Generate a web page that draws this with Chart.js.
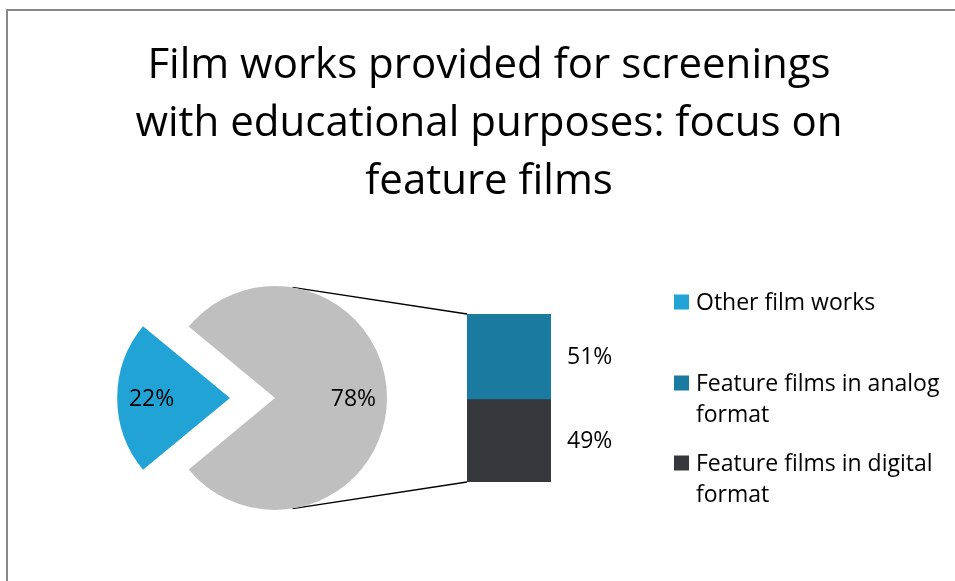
<!DOCTYPE html>
<html>
<head>
<meta charset="utf-8">
<script src="https://cdn.jsdelivr.net/npm/chart.js@4/dist/chart.umd.min.js"></script>
<style>
  body{margin:0;background:#fff;}
  #wrap{position:relative;width:955px;height:581px;overflow:hidden;background:#fff;}
  #frame{position:absolute;left:6px;top:9px;width:960px;height:600px;border-left:2px solid #888;border-top:2px solid #888;}
  #wrap canvas{position:absolute;left:0;top:0;}
</style>
</head>
<body>
<div id="wrap">
  <div id="frame"></div>
  <canvas id="pieChart" width="955" height="581"></canvas>
  <canvas id="barChart" width="955" height="581"></canvas>
</div>
<script>
const titleLines = ['Film works provided for screenings', 'with educational purposes: focus on', 'feature films']

// pie part
const pieLabels = ['Other film works', 'Feature films']
const pieValues = [22, 78]
const pieColors = ['#21a3d6', '#bfbfbf']

// bar part (stack order: bottom first)
const barLabels = ['Feature films in digital format', 'Feature films in analog format']
const barValues = [49, 51]
const barColors = ['#36373c', '#1a7a9f']

// legend entries as shown on the right
const legendItems = [
  {lines: ['Other film works'], color: pieColors[0]},
  {lines: ['Feature films in analog', 'format'], color: barColors[1]},
  {lines: ['Feature films in digital', 'format'], color: barColors[0]}
]

const FONT = '"Open Sans", "Noto Sans", sans-serif'

// percent labels next to the stacked bar
const barLabelPlugin = {
  id: 'barLabels',
  afterDatasetsDraw(chart) {
    const ctx = chart.ctx
    ctx.save()
    ctx.font = '23px ' + FONT
    ctx.fillStyle = '#000'
    ctx.textAlign = 'left'
    ctx.textBaseline = 'middle'
    chart.data.datasets.forEach((ds, i) => {
      const el = chart.getDatasetMeta(i).data[0]
      const mid = (el.y + el.base) / 2
      ctx.fillText(ds.data[0] + '%', el.x + el.width / 2 + 16, mid + 1)
    })
    ctx.restore()
  }
}

const barChart = new Chart(document.getElementById('barChart'), {
  type: 'bar',
  data: {
    labels: ['Feature films'],
    datasets: barValues.map((v, i) => ({
      label: barLabels[i],
      data: [v],
      backgroundColor: barColors[i],
      borderWidth: 0,
      categoryPercentage: 1,
      barPercentage: 1
    }))
  },
  options: {
    responsive: false,
    animation: false,
    layout: {padding: {left: 467, right: 404, top: 314, bottom: 99}},
    scales: {
      x: {stacked: true, display: false},
      y: {stacked: true, display: false, min: 0, max: 100}
    },
    plugins: {legend: {display: false}, tooltip: {enabled: false}}
  },
  plugins: [barLabelPlugin]
})

// title, pie labels, connector lines and legend
const piePlugin = {
  id: 'pieExtras',
  beforeDatasetsDraw(chart) {
    const ctx = chart.ctx
    const gray = chart.getDatasetMeta(0).data[1]
    const top = barChart.getDatasetMeta(1).data[0]
    const bottom = barChart.getDatasetMeta(0).data[0]
    const left = top.x - top.width / 2
    const a = 81 * Math.PI / 180
    ctx.save()
    ctx.strokeStyle = '#000'
    ctx.lineWidth = 1.5
    ctx.beginPath()
    ctx.moveTo(gray.x + Math.cos(a) * gray.outerRadius, gray.y - Math.sin(a) * gray.outerRadius)
    ctx.lineTo(left, top.y)
    ctx.moveTo(gray.x + Math.cos(a) * gray.outerRadius, gray.y + Math.sin(a) * gray.outerRadius)
    ctx.lineTo(left, bottom.base)
    ctx.stroke()
    ctx.restore()
  },
  afterDraw(chart) {
    const ctx = chart.ctx
    ctx.save()
    ctx.fillStyle = '#000'

    // title
    ctx.font = '42px ' + FONT
    ctx.textAlign = 'center'
    ctx.textBaseline = 'alphabetic'
    titleLines.forEach((t, i) => ctx.fillText(t, 489, 78 + i * 58))

    // slice labels
    ctx.font = '23px ' + FONT
    ctx.textBaseline = 'middle'
    chart.getDatasetMeta(0).data.forEach((el, i) => {
      const half = (el.startAngle + el.endAngle) / 2
      const shift = (el.options.offset || 0) / 4
      const r = el.outerRadius * 0.7 + shift
      ctx.fillText(pieValues[i] + '%', el.x + Math.cos(half) * r, el.y + Math.sin(half) * r + 1)
    })

    // legend
    ctx.textAlign = 'left'
    const legendY = [302, 383, 463]
    legendItems.forEach((item, i) => {
      ctx.fillStyle = item.color
      ctx.fillRect(674, legendY[i] - 7.5, 15, 15)
      ctx.fillStyle = '#000'
      item.lines.forEach((l, j) => ctx.fillText(l, 696, legendY[i] + j * 31 + 1))
    })
    ctx.restore()
  }
}

const pieChart = new Chart(document.getElementById('pieChart'), {
  type: 'pie',
  data: {
    labels: pieLabels,
    datasets: [{
      data: pieValues,
      backgroundColor: pieColors,
      borderWidth: 0,
      offset: [180, 0]
    }]
  },
  options: {
    responsive: false,
    animation: false,
    rotation: 270 - pieValues[0] * 3.6 / 2,
    radius: 112,
    layout: {padding: {left: 20, right: 425, top: 228, bottom: 13}},
    plugins: {legend: {display: false}, tooltip: {enabled: false}}
  },
  plugins: [piePlugin]
})
</script>
</body>
</html>
